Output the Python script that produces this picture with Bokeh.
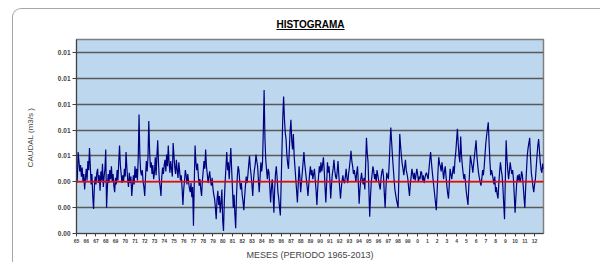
import numpy as np
from bokeh.plotting import figure
from bokeh.layouts import column
from bokeh.models import (FixedTicker, NumeralTickFormatter, Span, Range1d, Div)
from bokeh.embed import file_html
from bokeh.resources import INLINE

# Etiquetas de año (eje X, una por año)
anios = list(range(65, 100)) + list(range(0, 13))

# Caudal mensual, en milésimas de m3/s (1965-2012, 12 valores por año)
caudal_milesimas = [
    3.9, 4.2, 6.3, 5.6, 4.8, 5.3, 4.4, 5.1, 4.0, 4.6, 3.4, 4.3,   # 65
    5.0, 4.1, 5.6, 4.9, 6.6, 5.2, 3.8, 4.6, 2.9, 1.9, 3.6, 4.4,   # 66
    3.8, 4.7, 5.0, 3.9, 4.5, 3.3, 4.8, 4.1, 5.4, 3.6, 4.4, 5.0,   # 67
    6.5, 2.0, 3.5, 4.6, 3.9, 4.9, 4.2, 5.2, 4.0, 4.6, 3.7, 3.2,   # 68
    4.3, 3.8, 4.9, 4.1, 5.5, 6.8, 5.3, 4.6, 3.9, 4.5, 4.0, 5.0,   # 69
    4.4, 6.3, 5.1, 4.2, 3.6, 4.7, 3.9, 4.4, 2.9, 3.7, 4.5, 3.8,   # 70
    5.2, 4.3, 5.0, 4.1, 5.8, 9.2, 6.0, 4.8, 4.5, 4.9, 4.0, 3.6,   # 71
    2.9, 4.4, 5.6, 4.8, 5.9, 8.7, 6.4, 5.1, 5.5, 4.6, 5.3, 4.2,   # 72
    4.7, 5.9, 4.5, 6.0, 7.2, 5.4, 4.1, 3.6, 2.9, 4.4, 5.1, 4.6,   # 73
    5.3, 5.7, 4.8, 6.1, 5.2, 6.8, 5.5, 4.7, 5.6, 5.0, 4.4, 7.0,   # 74
    6.0, 5.1, 4.6, 5.7, 4.9, 4.3, 5.5, 4.8, 4.1, 4.5, 3.5, 2.2,   # 75
    3.4, 4.1, 4.9, 4.5, 3.8, 4.6, 4.0, 3.5, 3.2, 3.9, 2.8, 3.6,   # 76
    0.6, 3.9, 6.8, 5.5, 4.9, 5.4, 4.5, 3.7, 4.2, 3.4, 2.9, 4.1,   # 77
    4.8, 5.6, 5.0, 6.5, 5.2, 4.6, 3.9, 4.4, 4.8, 4.1, 3.7, 4.3,   # 78
    3.5, 3.0, 2.7, 2.0, 1.1, 2.6, 3.3, 2.2, 2.9, 1.6, 2.4, 3.4,   # 79
    1.0, 0.2, 2.5, 4.0, 5.1, 6.3, 4.9, 5.5, 4.2, 5.4, 6.6, 5.0,   # 80
    3.5, 2.0, 3.0, 1.5, 0.4, 2.9, 4.4, 5.2, 4.9, 4.0, 3.4, 3.9,   # 81
    3.0, 2.5, 1.8, 2.8, 3.7, 4.4, 3.9, 4.5, 5.3, 6.0, 5.1, 4.5,   # 82
    3.8, 2.9, 4.2, 4.9, 5.3, 6.1, 5.6, 5.2, 4.1, 3.2, 4.3, 5.5,   # 83
    4.8, 5.4, 7.9, 11.1, 7.4, 5.7, 4.9, 4.2, 5.0, 4.7, 3.6, 2.4,  # 84
    3.5, 4.2, 3.1, 1.6, 3.4, 4.6, 5.2, 4.3, 3.2, 2.7, 2.0, 1.4,   # 85
    3.9, 6.5, 9.0, 10.6, 8.9, 7.8, 7.3, 6.1, 5.4, 5.0, 6.4, 7.9,  # 86
    8.8, 7.2, 6.5, 7.7, 6.0, 5.1, 4.2, 3.3, 2.4, 3.8, 5.2, 4.4,   # 87
    3.2, 4.0, 4.7, 5.5, 6.3, 5.4, 4.8, 4.2, 3.6, 2.9, 3.8, 4.6,   # 88
    5.2, 4.5, 4.9, 4.2, 4.6, 5.0, 4.1, 3.3, 2.2, 3.5, 4.4, 5.2,   # 89
    4.7, 5.5, 4.8, 5.3, 5.9, 4.9, 3.6, 2.4, 3.9, 5.5, 4.7, 5.2,   # 90
    4.1, 2.7, 3.8, 4.6, 5.0, 5.7, 4.9, 4.4, 4.2, 4.8, 5.6, 4.5,   # 91
    3.6, 2.7, 3.5, 4.1, 4.5, 4.0, 3.9, 4.4, 5.0, 4.3, 3.9, 4.6,   # 92
    5.1, 5.7, 6.4, 5.6, 5.2, 4.6, 4.9, 4.5, 4.0, 4.7, 5.2, 3.9,   # 93
    2.3, 3.4, 4.2, 4.7, 4.1, 3.8, 4.3, 3.4, 5.3, 7.4, 6.2, 5.5,   # 94
    3.4, 1.3, 2.9, 4.0, 4.6, 5.2, 4.8, 4.2, 4.6, 4.0, 4.9, 4.5,   # 95
    4.1, 3.7, 3.4, 4.3, 4.8, 5.0, 4.4, 3.1, 2.0, 3.5, 4.7, 4.4,   # 96
    4.2, 5.4, 6.9, 8.2, 7.1, 6.0, 5.1, 4.2, 3.4, 3.0, 2.6, 2.3,   # 97
    2.0, 4.6, 7.7, 6.8, 6.0, 5.4, 5.0, 4.5, 5.1, 5.7, 4.9, 4.6,   # 98
    4.2, 3.5, 2.9, 3.8, 4.4, 5.0, 4.6, 4.2, 4.7, 4.1, 4.5, 5.0,   # 99
    4.6, 4.0, 4.4, 4.2, 4.8, 4.7, 4.1, 4.5, 3.9, 4.3, 4.6, 4.7,   # 00
    4.4, 4.2, 5.0, 5.7, 6.3, 5.5, 4.8, 4.2, 3.6, 3.0, 2.4, 1.8,   # 01
    3.2, 4.7, 5.9, 5.4, 5.2, 4.8, 5.5, 4.9, 4.2, 4.8, 5.2, 4.4,   # 02
    3.7, 3.1, 2.7, 3.8, 5.0, 4.6, 4.2, 4.7, 5.2, 4.6, 5.7, 6.3,   # 03
    7.2, 8.1, 6.9, 6.0, 5.5, 7.5, 6.1, 5.3, 4.7, 4.2, 4.6, 3.9,   # 04
    3.2, 2.7, 2.2, 3.6, 4.8, 6.0, 5.6, 5.2, 4.7, 5.4, 6.0, 6.6,   # 05
    7.2, 6.0, 5.3, 4.7, 4.3, 4.0, 3.7, 4.2, 4.9, 4.5, 5.2, 6.1,   # 06
    7.0, 7.6, 8.1, 8.6, 7.0, 5.6, 4.5, 4.9, 4.6, 4.2, 3.8, 4.4,   # 07
    3.2, 3.6, 3.0, 2.7, 3.9, 4.8, 5.5, 4.9, 4.5, 3.6, 2.3, 1.1,   # 08
    4.2, 7.2, 5.8, 4.9, 4.2, 4.8, 5.5, 5.0, 4.6, 4.9, 4.2, 3.0,   # 09
    1.6, 2.8, 3.9, 4.5, 4.1, 4.6, 4.0, 4.2, 4.8, 4.5, 3.7, 2.8,   # 10
    2.0, 3.5, 4.8, 6.0, 6.6, 7.0, 7.4, 5.9, 4.7, 4.2, 3.6, 3.2,   # 11
    3.8, 4.2, 5.1, 6.0, 6.8, 7.3, 6.4, 5.5, 4.9, 4.7, 5.4, 5.0,   # 12
]

promedio = 0.0040          # línea roja (caudal medio)
y_ticks = [0.000, 0.002, 0.004, 0.006, 0.008, 0.010, 0.012, 0.014]
y_max = 0.015

caudal = np.array(caudal_milesimas) / 1000.0
mes = np.arange(len(caudal))

FONT = "Liberation Sans"

p = figure(width=587, height=227, output_backend="svg", toolbar_location=None,
           x_range=Range1d(0, len(caudal) - 1), y_range=Range1d(0, y_max),
           min_border_left=63, min_border_right=57, min_border_top=4,
           min_border_bottom=27, margin=(0, 0, 0, 0))
p.background_fill_color = "#BDD7EE"
p.border_fill_color = "white"
p.outline_line_color = "#7F7F7F"
p.outline_line_width = 1.5

p.line(mes, caudal, line_color="#000080", line_width=1.2)
p.add_layout(Span(location=promedio, dimension="width",
                  line_color="#FF0000", line_width=1.5))

p.xgrid.visible = False
p.ygrid.grid_line_color = "#595959"
p.ygrid.grid_line_width = 1.3

yax = p.yaxis[0]
yax.ticker = FixedTicker(ticks=y_ticks)
yax.formatter = NumeralTickFormatter(format="0.00")
yax.axis_label = "CAUDAL  (m3/s )"
yax.axis_label_text_font = FONT
yax.axis_label_text_font_style = "normal"
yax.axis_label_text_font_size = "8px"
yax.axis_label_standoff = 20
yax.major_label_text_font = FONT
yax.major_label_text_font_style = "bold"
yax.major_label_text_font_size = "6.5px"
yax.major_label_standoff = 2
yax.major_tick_out = 4
yax.major_tick_in = 0
yax.minor_tick_out = 0
yax.minor_tick_in = 0
yax.axis_line_color = "#404040"
yax.major_tick_line_color = "#404040"

xax = p.xaxis[0]
xax.ticker = FixedTicker(ticks=[i * 12 for i in range(len(anios))])
xax.major_label_overrides = {i * 12: str(a) for i, a in enumerate(anios)}
xax.axis_label = "MESES (PERIODO 1965-2013)"
xax.axis_label_text_font = FONT
xax.axis_label_text_font_style = "normal"
xax.axis_label_text_font_size = "9px"
xax.axis_label_standoff = 4
xax.major_label_text_font = FONT
xax.major_label_text_font_style = "bold"
xax.major_label_text_font_size = "5px"
xax.major_label_standoff = 2
xax.major_tick_out = 3
xax.major_tick_in = 0
xax.minor_tick_out = 0
xax.minor_tick_in = 0
xax.axis_line_color = "#404040"
xax.major_tick_line_color = "#404040"

titulo = Div(
    text=('<div style="width:587px;box-sizing:border-box;padding-top:10px;'
          'padding-left:8px;text-align:center;font-family:\'Liberation Sans\','
          'Arial,sans-serif;font-size:10px;font-weight:bold;'
          'text-decoration:underline;color:#000;line-height:12px;">'
          'HISTOGRAMA</div>'),
    width=587, height=26, margin=(0, 0, 0, 0))

tarjeta = column(titulo, p, spacing=0, margin=(8, 0, 0, 12),
                 styles={"border-top": "1px solid #A6A6A6",
                         "border-left": "1px solid #A6A6A6",
                         "border-top-left-radius": "9px"})

open("out.html", "w").write(file_html(tarjeta, INLINE))
